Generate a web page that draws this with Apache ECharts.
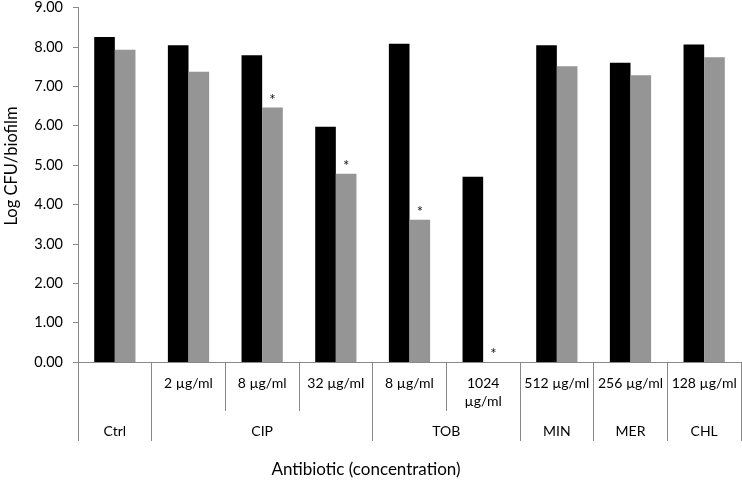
<!DOCTYPE html>
<html>
<head>
<meta charset="utf-8">
<script src="https://cdn.jsdelivr.net/npm/echarts@6/dist/echarts.min.js"></script>
<style>html,body{margin:0;padding:0;background:#fff}#c{width:742px;height:482px}</style>
</head>
<body>
<div id="c"></div>
<script>
var concentrations = ['', '2 µg/ml', '8 µg/ml', '32 µg/ml', '8 µg/ml', '1024 µg/ml', '512 µg/ml', '256 µg/ml', '128 µg/ml'];
var groups = ['Ctrl', 'CIP', 'TOB', 'MIN', 'MER', 'CHL'];
var groupSpans = [1, 3, 2, 1, 1, 1];
var seriesA = [8.25, 8.04, 7.79, 5.97, 8.08, 4.70, 8.04, 7.60, 8.06];
var seriesB = [7.93, 7.37, 6.46, 4.78, 3.61, 0.00, 7.51, 7.28, 7.74];
var significant = [0, 0, 1, 1, 1, 1, 0, 0, 0];

var FONT = 'Lato';
var AX = '#888888';

var bounds = [0], centers = [], acc = 0;
groupSpans.forEach(function (s) { centers.push(acc + s / 2); acc += s; bounds.push(acc); });

var chart = echarts.init(document.getElementById('c'), null, {renderer: 'canvas'});
chart.setOption({
  animation: false,
  grid: {left: 78, right: 1, top: 6, bottom: 120},
  textStyle: {fontFamily: FONT},
  xAxis: [{
    type: 'category',
    data: concentrations,
    position: 'bottom',
    axisLine: {lineStyle: {color: AX, width: 1}},
    axisTick: {show: true, length: 49, lineStyle: {color: AX}},
    axisLabel: {
      interval: 0, margin: 12, color: '#000', fontFamily: FONT, fontSize: 14, lineHeight: 18,
      formatter: function (v) { return v.indexOf('1024') === 0 ? v.replace(' ', '\n') : v; }
    }
  }, {
    type: 'value',
    min: 0, max: 9,
    position: 'bottom',
    axisLine: {show: false},
    splitLine: {show: false},
    axisTick: {show: true, length: 79, customValues: bounds, lineStyle: {color: AX}},
    axisLabel: {
      customValues: centers, margin: 62, color: '#000', fontFamily: FONT, fontSize: 14,
      formatter: function (v) { var i = centers.indexOf(v); return i >= 0 ? groups[i] : ''; }
    }
  }],
  yAxis: {
    type: 'value',
    min: 0, max: 9, interval: 1,
    axisLine: {show: true, lineStyle: {color: AX}},
    axisTick: {show: true, length: 5, lineStyle: {color: AX}},
    splitLine: {show: false},
    axisLabel: {margin: 15, color: '#000', fontFamily: FONT, fontSize: 14.5,
      formatter: function (v) { return v.toFixed(2); }}
  },
  series: [{
    type: 'bar', data: seriesA, xAxisIndex: 0,
    barGap: '0%', barCategoryGap: '44%',
    itemStyle: {color: '#000000'}
  }, {
    type: 'bar', data: seriesB, xAxisIndex: 0,
    barGap: '0%', barCategoryGap: '44%',
    itemStyle: {color: '#959595'},
    label: {
      show: true, position: 'top', distance: 0, color: '#111', fontSize: 15, fontFamily: FONT,
      formatter: function (p) { return significant[p.dataIndex] ? '*' : ''; }
    }
  }],
  graphic: [{
    type: 'text', x: 366, y: 470,
    style: {text: 'Antibiotic (concentration)', fontFamily: FONT, fontSize: 17, fill: '#000', align: 'center', verticalAlign: 'middle'}
  }, {
    type: 'text', x: 12, y: 166, rotation: Math.PI / 2,
    style: {text: 'Log CFU/biofilm', fontFamily: FONT, fontSize: 16.5, fill: '#000', align: 'center', verticalAlign: 'middle'}
  }]
});
</script>
</body>
</html>
